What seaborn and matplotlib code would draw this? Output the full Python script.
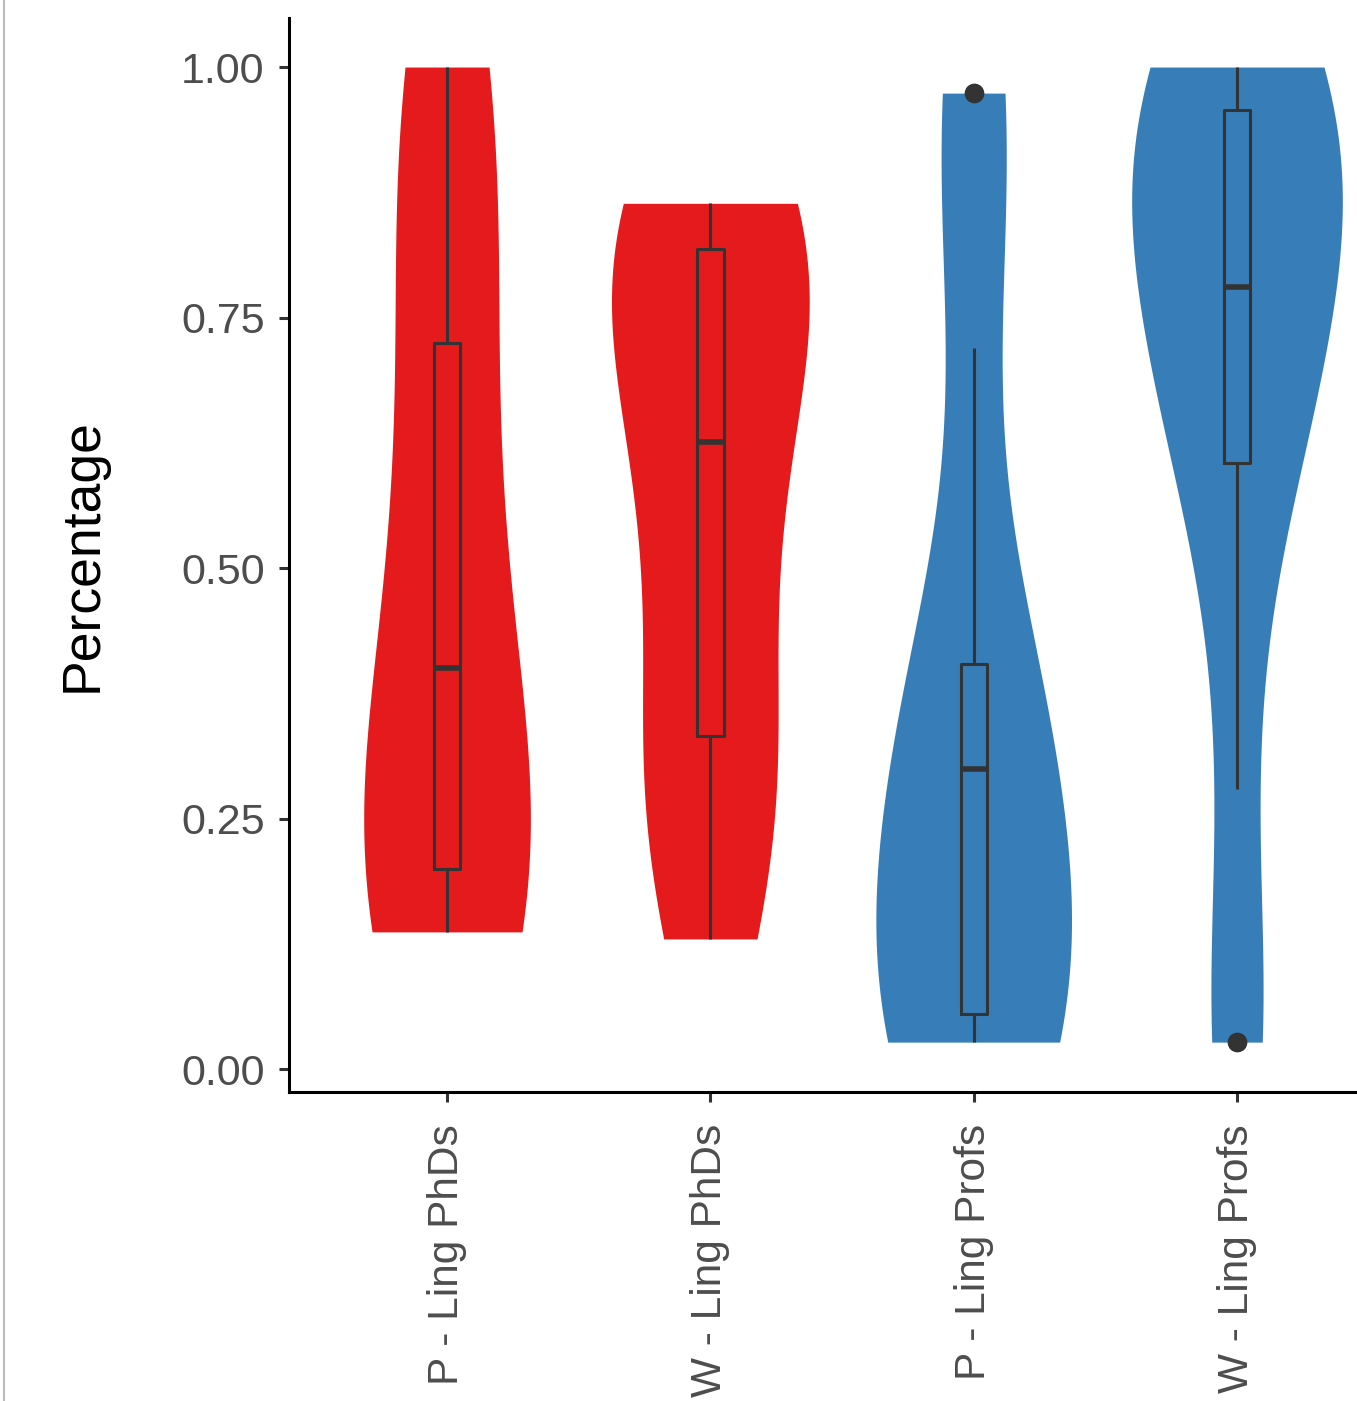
import pandas as pd
import matplotlib.pyplot as plt
import seaborn as sns
from matplotlib.lines import Line2D

# group labels and colours (ColorBrewer Set1 red / blue)
groups = ["P - Ling PhDs", "W - Ling PhDs", "P - Ling Profs", "W - Ling Profs"]
colors = ["#E41A1C", "#E41A1C", "#377EB8", "#377EB8"]

p_ling_phds = [0.137, 0.18, 0.22, 0.40, 0.60, 0.85, 1.0]
w_ling_phds = [0.13, 0.27, 0.332, 0.50, 0.626, 0.72, 0.818, 0.845, 0.864]
p_ling_profs = [0.027, 0.03, 0.045, 0.055, 0.09, 0.16, 0.30, 0.32, 0.36,
                0.404, 0.72, 0.974, 0.974]
w_ling_profs = [0.027, 0.027, 0.28, 0.50, 0.605, 0.65, 0.70, 0.75, 0.781,
                0.82, 0.86, 0.90, 0.957, 0.97, 1.0, 1.0, 1.0]

yticks = [0.00, 0.25, 0.50, 0.75, 1.00]
ytick_labels = ["0.00", "0.25", "0.50", "0.75", "1.00"]

values = [p_ling_phds, w_ling_phds, p_ling_profs, w_ling_profs]
df = pd.DataFrame({
    "group": [g for g, v in zip(groups, values) for _ in v],
    "Percentage": [x for v in values for x in v],
})

# widest point of each violin, in category units
violin_widths = [0.633, 0.751, 0.743, 0.80]

sns.set_style("white")
plt.rcParams["font.family"] = ["Liberation Sans", "DejaVu Sans"]

fig = plt.figure(figsize=(13.57, 14.01), dpi=100)
ax = fig.add_axes([0.213, 0.2206, 0.815, 0.7666])

for g, col, w in zip(groups, colors, violin_widths):
    sub = df[df["group"] == g]
    sns.violinplot(data=sub, x="group", y="Percentage", order=groups,
                   color=col, inner=None, cut=0, linewidth=0,
                   density_norm="width", width=w, bw_adjust=0.85,
                   saturation=1, ax=ax)

sns.boxplot(data=df, x="group", y="Percentage", order=groups, width=0.1,
            fill=False, color="#333333", linewidth=2.2, showcaps=False,
            medianprops=dict(linewidth=4, color="#333333"),
            flierprops=dict(marker="o", markersize=13, markerfacecolor="#333333",
                            markeredgecolor="#333333"),
            ax=ax)

ax.set_xlim(-0.6, 3.6)
ax.set_ylim(-0.0227, 1.049)
ax.set_yticks(yticks)
ax.set_yticklabels(ytick_labels)
ax.set_xlabel("")
ax.set_ylabel("Percentage", fontsize=38.5, color="black", labelpad=53)

for side in ["top", "right"]:
    ax.spines[side].set_visible(False)
for side in ["left", "bottom"]:
    ax.spines[side].set_color("black")
    ax.spines[side].set_linewidth(2.2)

ax.tick_params(axis="both", length=7, width=2.2, color="#333333",
               labelsize=31, labelcolor="#4D4D4D", left=True, bottom=True)
ax.tick_params(axis="y", pad=10.5)
ax.tick_params(axis="x", pad=16, labelsize=30.5)
plt.setp(ax.get_xticklabels(), rotation=90, ha="center", va="top")

# thin grey frame line at the far left of the picture
fig.add_artist(Line2D([0.003, 0.003], [0, 1], color="#BBBBBB", lw=1.5))

fig.savefig("out.png", dpi=100)
